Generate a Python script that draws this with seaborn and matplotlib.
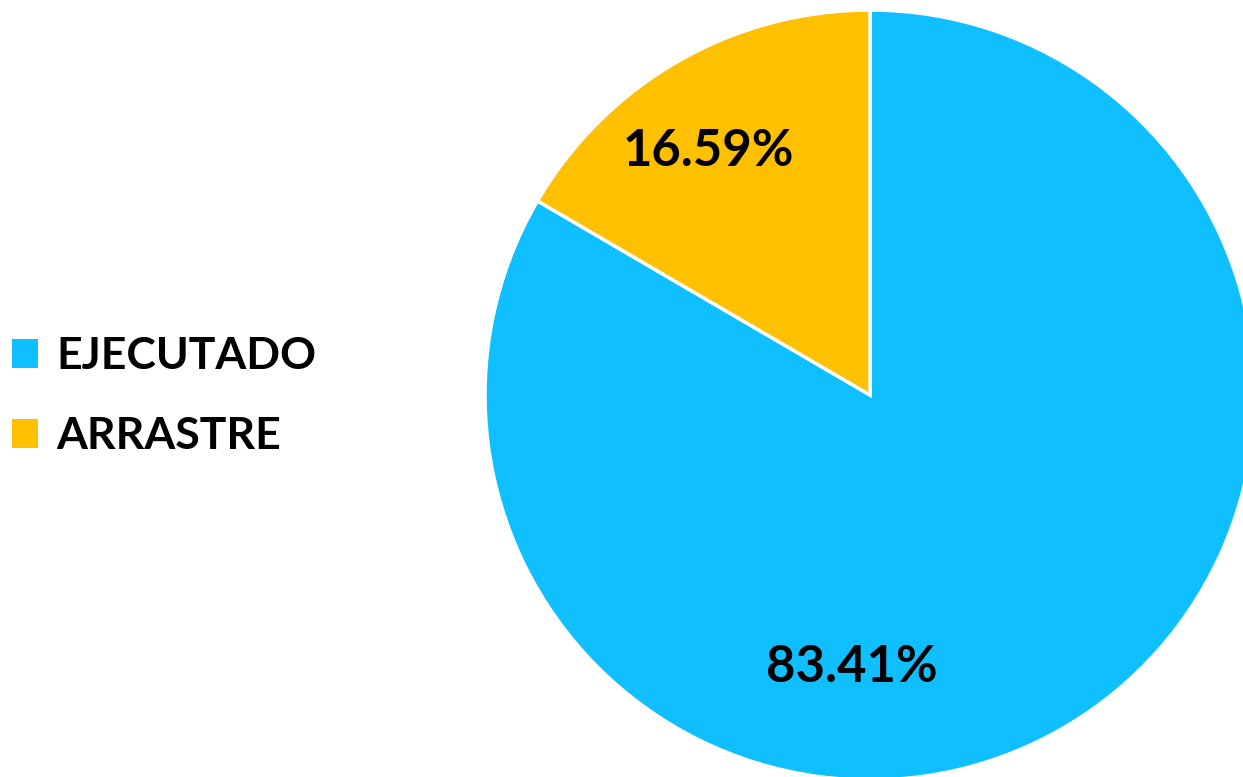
import matplotlib
matplotlib.use("Agg")
import matplotlib.pyplot as plt
import seaborn as sns
import numpy as np
from matplotlib.patches import Patch

sns.set_theme(style="white")
plt.rcParams["font.family"] = ["Lato", "DejaVu Sans"]

categories = ["EJECUTADO", "ARRASTRE"]
shares = [83.41, 16.59]
pct_labels = ["83.41%", "16.59%"]
colors = ["#10BFFF", "#FFC000"]

fig = plt.figure(figsize=(12.43, 7.77), dpi=100)
ax = fig.add_axes([485 / 1243, -3 / 777, 770 / 1243, 770 / 777])

wedges, _ = ax.pie(shares, colors=colors, startangle=90, counterclock=False,
                   wedgeprops=dict(edgecolor="white", linewidth=2.5))

# label placement (angle in degrees, fraction of radius), as in the source chart
label_pos = [(-93.8, 0.71), (123.6, 0.76)]
for txt, (ang, r) in zip(pct_labels, label_pos):
    a = np.deg2rad(ang)
    ax.text(r * np.cos(a), r * np.sin(a), txt, ha="center", va="center",
            fontsize=36.5, fontweight="bold", color="black")

ax.set_xlim(-1, 1)
ax.set_ylim(-1, 1)
ax.set_aspect("equal")
ax.axis("off")

handles = [Patch(facecolor=c, edgecolor="none") for c in colors]
fig.legend(handles, categories, loc="center left", bbox_to_anchor=(-0.005, 0.49),
           frameon=False, prop=dict(size=32, weight="bold"), labelcolor="black",
           handlelength=0.6, handleheight=0.6, handletextpad=0.4,
           labelspacing=0.9, borderaxespad=0.0)

fig.savefig("out.png", dpi=100)
